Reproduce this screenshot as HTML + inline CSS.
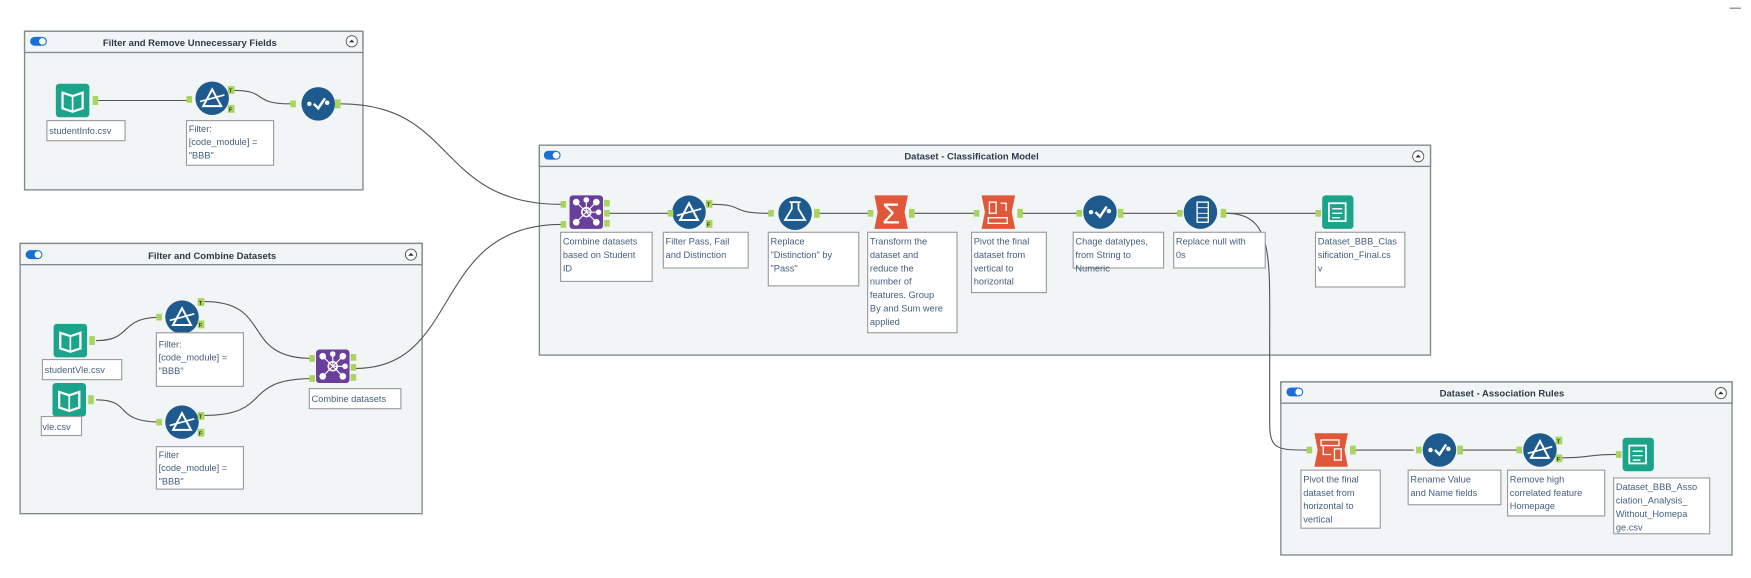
<!DOCTYPE html>
<html><head><meta charset="utf-8"><style>
html,body{margin:0;padding:0;background:#fff;width:1751px;height:578px;overflow:hidden}
svg{display:block}
text{font-family:"Liberation Sans",sans-serif}
.cont{fill:#f2f5f6;stroke:#7e8a8c;stroke-width:1.2}
.hdr{fill:#f2f5f6;stroke:#7e8a8c;stroke-width:1.2}
.ttl{font-size:8.5px;font-weight:bold;fill:#2b3a4a;text-anchor:middle}
.lbl{fill:#fff;stroke:#9a9a9a;stroke-width:1}
.lt{font-size:8.3px;fill:#44607e}
.w{fill:none;stroke:#555;stroke-width:1}
.p{fill:#a9d55f}
.pt{font-size:5px;fill:#333;font-weight:bold}
.blue{fill:#1e5a8e}
</style></head><body>
<svg width="1751" height="578" viewBox="0 0 1568 517.6" preserveAspectRatio="none">
<defs>
<g id="tog"><rect x="0" y="0" width="15" height="8" rx="4" fill="#1a6fd6"/><circle cx="11" cy="4" r="3" fill="#fff"/></g>
<g id="col"><circle cx="0" cy="0" r="5" fill="#fff" stroke="#555" stroke-width="0.8"/><path d="M-2.5,1 L0,-1.5 L2.5,1" fill="#333"/></g>
<g id="book"><rect x="-15" y="-15" width="30" height="30" rx="3" fill="#1ba48a"/><path d="M-9,-7 L0,-4 L9,-7 L9,7 L0,10 L-9,7 Z" fill="none" stroke="#fff" stroke-width="2"/><line x1="0" y1="-4" x2="0" y2="10" stroke="#fff" stroke-width="1.5"/></g>
<g id="filt"><circle r="15" class="blue"/><path d="M-8,7 L0,-8 L8,7 Z" fill="none" stroke="#fff" stroke-width="1.8"/><line x1="-11" y1="3" x2="11" y2="-3" stroke="#fff" stroke-width="1.5"/></g>
<g id="sel"><circle r="15" class="blue"/><circle cx="-8" cy="0" r="2" fill="#fff"/><circle cx="8" cy="-1" r="2" fill="#fff"/><path d="M-4,0 L0,4 L6,-5" fill="none" stroke="#fff" stroke-width="2.2"/></g>
<g id="join"><rect x="-15" y="-15" width="30" height="30" rx="3" fill="#6a3e9b"/><circle r="4" fill="none" stroke="#fff" stroke-width="1.5"/><g fill="#fff"><circle cx="-9" cy="-9" r="3"/><circle cx="9" cy="-9" r="3"/><circle cx="-9" cy="9" r="3"/><circle cx="9" cy="9" r="3"/><circle cx="11" cy="0" r="2.5"/><circle cx="0" cy="-11" r="2.5"/></g><path d="M-9,-9 L9,9 M9,-9 L-9,9 M0,0 L11,0 M0,0 L0,-11" stroke="#fff" stroke-width="1"/></g>
<g id="orng"><path d="M-15,-15 L15,-15 L12,0 L15,15 L-15,15 L-12,0 Z" fill="#e0573a"/></g>
<g id="out"><rect x="-14" y="-15" width="28" height="30" rx="3" fill="#1ba48a"/><rect x="-8" y="-8" width="15" height="16" fill="none" stroke="#fff" stroke-width="1.6"/><path d="M-5,-3 H4 M-5,1 H4 M-5,5 H2" stroke="#fff" stroke-width="1.2"/></g>
</defs>

<text x="1549" y="10" font-size="10" fill="#333">—</text>

<rect class="cont" x="22" y="28" width="303" height="142"/>
<rect class="hdr" x="22" y="28" width="303" height="19"/>
<use href="#tog" x="27" y="33"/><text class="ttl" x="170" y="41">Filter and Remove Unnecessary Fields</text>
<use href="#col" x="315" y="37"/>

<rect class="cont" x="18" y="218" width="360" height="242"/>
<rect class="hdr" x="18" y="218" width="360" height="19"/>
<use href="#tog" x="23" y="224"/><text class="ttl" x="190" y="232">Filter and Combine Datasets</text>
<use href="#col" x="368" y="228"/>

<rect class="cont" x="483" y="130" width="798" height="188"/>
<rect class="hdr" x="483" y="130" width="798" height="19"/>
<use href="#tog" x="487" y="135"/><text class="ttl" x="870" y="143">Dataset - Classification Model</text>
<use href="#col" x="1270" y="140"/>

<rect class="cont" x="1147" y="342" width="404" height="155"/>
<rect class="hdr" x="1147" y="342" width="404" height="19"/>
<use href="#tog" x="1152" y="347"/><text class="ttl" x="1345" y="355">Dataset - Association Rules</text>
<use href="#col" x="1541" y="352"/>

<path class="w" d="M88,90 H170"/>
<path class="w" d="M210,81 C240,81 225,93 260,93"/>
<path class="w" d="M305,93 C410,93 390,183 503,183"/>
<path class="w" d="M86,305 C120,305 105,284 145,284"/>
<path class="w" d="M183,270 C245,270 215,321 280,321"/>
<path class="w" d="M86,358 C120,358 100,378 145,378"/>
<path class="w" d="M183,372 C245,372 215,339 280,339"/>
<path class="w" d="M318,330 C415,330 385,201 503,201"/>
<path class="w" d="M545,191 H600"/>
<path class="w" d="M637,183 C670,183 650,191 690,191"/>
<path class="w" d="M732,191 H778"/>
<path class="w" d="M818,191 H873"/>
<path class="w" d="M914,191 H966"/>
<path class="w" d="M1005,191 H1056"/>
<path class="w" d="M1098,191 H1180"/>
<path class="w" d="M1098,191 C1140,191 1137,230 1137,300 V380 C1137,403 1145,403 1172,403"/>
<path class="w" d="M1212,403 H1266"/>
<path class="w" d="M1309,403 H1362"/>
<path class="w" d="M1398,410 C1425,410 1420,407 1448,407"/>

<use href="#book" x="65" y="90"/><rect class="p" x="83" y="86" width="5" height="8"/>
<use href="#filt" x="190" y="88"/><rect class="p" x="167" y="86" width="5" height="6"/><rect class="p" x="204" y="77" width="6" height="7"/><rect class="p" x="204" y="94" width="6" height="7"/>
<text class="pt" x="205" y="83">T</text><text class="pt" x="205" y="100">F</text>
<use href="#sel" x="285" y="93"/><rect class="p" x="260" y="90" width="5" height="6"/><rect class="p" x="300" y="89" width="5" height="8"/>
<rect class="lbl" x="42" y="108" width="70" height="18"/><text class="lt" x="44" y="120">studentInfo.csv</text>
<rect class="lbl" x="167" y="108" width="78" height="40"/><text class="lt" x="169" y="118">Filter:</text><text class="lt" x="169" y="130">[code_module] =</text><text class="lt" x="169" y="142">"BBB"</text>

<use href="#book" x="63" y="305"/><rect class="p" x="80" y="301" width="5" height="8"/>
<use href="#filt" x="163" y="284"/><rect class="p" x="140" y="281" width="5" height="6"/><rect class="p" x="177" y="267" width="6" height="7"/><rect class="p" x="177" y="287" width="6" height="7"/>
<text class="pt" x="178" y="273">T</text><text class="pt" x="178" y="293">F</text>
<rect class="lbl" x="140" y="298" width="78" height="48"/><text class="lt" x="142" y="311">Filter:</text><text class="lt" x="142" y="323">[code_module] =</text><text class="lt" x="142" y="335">"BBB"</text>
<rect class="lbl" x="38" y="322" width="71" height="18"/><text class="lt" x="40" y="334">studentVle.csv</text>
<use href="#book" x="62" y="358"/><rect class="p" x="79" y="354" width="5" height="8"/>
<rect class="lbl" x="37" y="373" width="36" height="17"/><text class="lt" x="38" y="385">vle.csv</text>
<use href="#filt" x="163" y="378"/><rect class="p" x="140" y="375" width="5" height="6"/><rect class="p" x="177" y="369" width="6" height="7"/><rect class="p" x="177" y="384" width="6" height="7"/>
<text class="pt" x="178" y="375">T</text><text class="pt" x="178" y="390">F</text>
<rect class="lbl" x="140" y="400" width="78" height="38"/><text class="lt" x="142" y="410">Filter</text><text class="lt" x="142" y="422">[code_module] =</text><text class="lt" x="142" y="434">"BBB"</text>
<use href="#join" x="298" y="328"/><rect class="p" x="277" y="318" width="5" height="6"/><rect class="p" x="277" y="336" width="5" height="6"/><rect class="p" x="314" y="317" width="5" height="6"/><rect class="p" x="314" y="326" width="5" height="6"/><rect class="p" x="314" y="335" width="5" height="6"/>
<rect class="lbl" x="277" y="348" width="82" height="18"/><text class="lt" x="279" y="360">Combine datasets</text>

<use href="#join" x="525" y="190"/><rect class="p" x="502" y="180" width="5" height="6"/><rect class="p" x="502" y="198" width="5" height="6"/><rect class="p" x="541" y="179" width="5" height="6"/><rect class="p" x="541" y="188" width="5" height="6"/><rect class="p" x="541" y="197" width="5" height="6"/>
<rect class="lbl" x="502" y="208" width="82" height="44"/><text class="lt" x="504" y="219">Combine datasets</text><text class="lt" x="504" y="231">based on Student</text><text class="lt" x="504" y="243">ID</text>
<use href="#filt" x="617" y="190"/><rect class="p" x="598" y="188" width="5" height="6"/><rect class="p" x="632" y="179" width="6" height="7"/><rect class="p" x="632" y="197" width="6" height="7"/>
<text class="pt" x="633" y="185">T</text><text class="pt" x="633" y="203">F</text>
<rect class="lbl" x="594" y="208" width="76" height="32"/><text class="lt" x="596" y="219">Filter Pass, Fail</text><text class="lt" x="596" y="231">and Distinction</text>
<circle cx="712" cy="191" r="15" fill="#1e5a8e"/><path d="M707,181 h10 M709,181 v6 l-6,10 h18 l-6,-10 v-6" fill="none" stroke="#fff" stroke-width="1.6"/>
<rect class="p" x="688" y="188" width="5" height="6"/><rect class="p" x="729" y="187" width="5" height="8"/>
<rect class="lbl" x="688" y="208" width="81" height="48"/><text class="lt" x="690" y="219">Replace</text><text class="lt" x="690" y="231">"Distinction" by</text><text class="lt" x="690" y="243">"Pass"</text>
<use href="#orng" x="798" y="190"/><text x="798" y="200" font-size="26" fill="#fff" text-anchor="middle">Σ</text>
<rect class="p" x="777" y="188" width="5" height="6"/><rect class="p" x="814" y="187" width="5" height="8"/>
<rect class="lbl" x="777" y="208" width="80" height="90"/><text class="lt" x="779" y="219">Transform the</text><text class="lt" x="779" y="231">dataset and</text><text class="lt" x="779" y="243">reduce the</text><text class="lt" x="779" y="255">number of</text><text class="lt" x="779" y="267">features. Group</text><text class="lt" x="779" y="279">By and Sum were</text><text class="lt" x="779" y="291">applied</text>
<use href="#orng" x="894" y="190"/><rect x="886" y="181" width="6" height="10" fill="none" stroke="#fff" stroke-width="1.2"/><rect x="885" y="195" width="17" height="5" fill="none" stroke="#fff" stroke-width="1.2"/><path d="M896,182 h5 v7" fill="none" stroke="#fff" stroke-width="1.2"/>
<rect class="p" x="872" y="188" width="5" height="6"/><rect class="p" x="911" y="187" width="5" height="8"/>
<rect class="lbl" x="870" y="208" width="67" height="54"/><text class="lt" x="872" y="219">Pivot the final</text><text class="lt" x="872" y="231">dataset from</text><text class="lt" x="872" y="243">vertical to</text><text class="lt" x="872" y="255">horizontal</text>
<use href="#sel" x="985" y="190"/><rect class="p" x="964" y="188" width="5" height="6"/><rect class="p" x="1001" y="187" width="5" height="8"/>
<rect class="lbl" x="961" y="208" width="81" height="32"/><text class="lt" x="963" y="219">Chage datatypes,</text><text class="lt" x="963" y="231">from String to</text><text class="lt" x="963" y="243">Numeric</text>
<circle cx="1075" cy="190" r="15" class="blue"/><rect x="1072" y="181" width="10" height="18" fill="none" stroke="#fff" stroke-width="1.2"/><path d="M1072,186 h10 M1072,191 h10 M1072,195 h10" stroke="#fff" stroke-width="0.8"/>
<rect class="p" x="1054" y="188" width="5" height="6"/><rect class="p" x="1093" y="187" width="5" height="8"/>
<rect class="lbl" x="1051" y="208" width="82" height="32"/><text class="lt" x="1053" y="219">Replace null with</text><text class="lt" x="1053" y="231">0s</text>
<use href="#out" x="1198" y="190"/><rect class="p" x="1178" y="188" width="5" height="6"/>
<rect class="lbl" x="1178" y="208" width="80" height="49"/><text class="lt" x="1180" y="219">Dataset_BBB_Clas</text><text class="lt" x="1180" y="231">sification_Final.cs</text><text class="lt" x="1180" y="243">v</text>

<use href="#orng" x="1192" y="403"/><rect x="1183" y="394" width="16" height="5" fill="none" stroke="#fff" stroke-width="1.2"/><rect x="1195" y="402" width="6" height="10" fill="none" stroke="#fff" stroke-width="1.2"/><path d="M1185,400 v7 h7" fill="none" stroke="#fff" stroke-width="1.2"/>
<rect class="p" x="1170" y="400" width="5" height="6"/><rect class="p" x="1209" y="399" width="5" height="8"/>
<rect class="lbl" x="1165" y="421" width="71" height="52"/><text class="lt" x="1167" y="432">Pivot the final</text><text class="lt" x="1167" y="444">dataset from</text><text class="lt" x="1167" y="456">horizontal to</text><text class="lt" x="1167" y="468">vertical</text>
<use href="#sel" x="1289" y="403"/><rect class="p" x="1268" y="400" width="5" height="6"/><rect class="p" x="1305" y="399" width="5" height="8"/>
<rect class="lbl" x="1261" y="421" width="83" height="31"/><text class="lt" x="1263" y="432">Rename Value</text><text class="lt" x="1263" y="444">and Name fields</text>
<use href="#filt" x="1379" y="403"/><rect class="p" x="1358" y="400" width="5" height="6"/><rect class="p" x="1393" y="391" width="6" height="7"/><rect class="p" x="1393" y="407" width="6" height="7"/>
<text class="pt" x="1394" y="397">T</text><text class="pt" x="1394" y="413">F</text>
<rect class="lbl" x="1350" y="421" width="87" height="41"/><text class="lt" x="1352" y="432">Remove high</text><text class="lt" x="1352" y="444">correlated feature</text><text class="lt" x="1352" y="456">Homepage</text>
<use href="#out" x="1467" y="407"/><rect class="p" x="1447" y="404" width="5" height="6"/>
<rect class="lbl" x="1445" y="428" width="86" height="50"/><text class="lt" x="1447" y="439">Dataset_BBB_Asso</text><text class="lt" x="1447" y="451">ciation_Analysis_</text><text class="lt" x="1447" y="463">Without_Homepa</text><text class="lt" x="1447" y="475">ge.csv</text>
</svg>
</body></html>
